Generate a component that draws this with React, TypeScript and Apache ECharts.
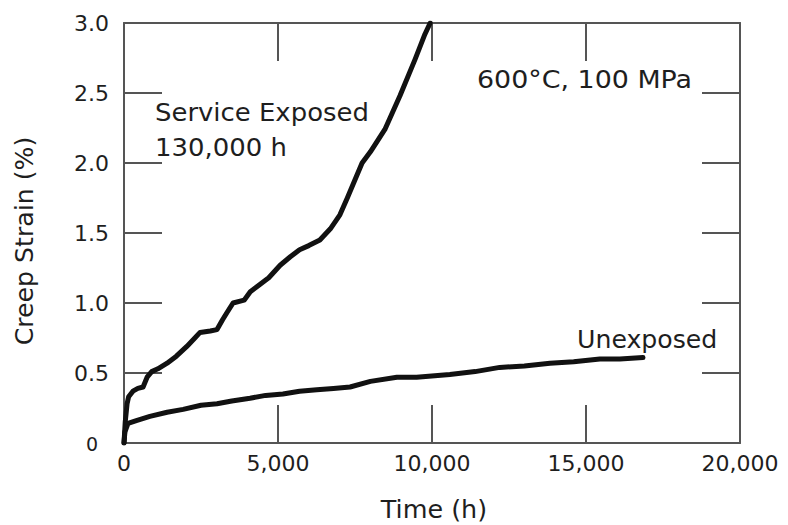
import React, { useEffect, useRef } from "react";
import * as echarts from "echarts";

const xTicks = [0, 5000, 10000, 15000, 20000];
const yTicks = [0, 0.5, 1.0, 1.5, 2.0, 2.5, 3.0];

const serviceExposed: [number, number][] = [
  [0, 0], [40, 0.15], [100, 0.28], [150, 0.33], [290, 0.37], [450, 0.39], [620, 0.40],
  [750, 0.47], [900, 0.51], [1100, 0.53], [1400, 0.57], [1700, 0.62], [2040, 0.69],
  [2300, 0.75], [2470, 0.79], [2800, 0.80], [3020, 0.81], [3200, 0.88], [3340, 0.93],
  [3540, 1.0], [3900, 1.02], [4100, 1.08], [4400, 1.13], [4700, 1.18], [5070, 1.27],
  [5400, 1.33], [5700, 1.38], [6000, 1.41], [6360, 1.45], [6700, 1.53], [7010, 1.63],
  [7250, 1.75], [7500, 1.88], [7730, 2.0], [8000, 2.08], [8470, 2.24], [8960, 2.48],
  [9450, 2.74], [9770, 2.92], [9940, 3.0],
];

const unexposed: [number, number][] = [
  [0, 0], [30, 0.08], [130, 0.14], [400, 0.16], [840, 0.19], [1400, 0.22], [1920, 0.24],
  [2500, 0.27], [3020, 0.28], [3500, 0.30], [4090, 0.32], [4600, 0.34], [5160, 0.35],
  [5700, 0.37], [6260, 0.38], [6800, 0.39], [7340, 0.40], [8000, 0.44], [8860, 0.47],
  [9500, 0.47], [10580, 0.49], [11400, 0.51], [12200, 0.54], [13000, 0.55], [13830, 0.57],
  [14600, 0.58], [15450, 0.60], [16100, 0.60], [16850, 0.61],
];

const FONT = "DejaVu Sans";
const TXT = "#1e1e1e";
const FRAME = "#555";

export default function App() {
  const ref = useRef<HTMLDivElement>(null);
  useEffect(() => {
    if (!ref.current) return;
    const chart = echarts.init(ref.current, null, { renderer: "svg" });
    const axisLine = { show: true, onZero: false, lineStyle: { color: FRAME, width: 2 } };
    const axisTick = { show: true, inside: true, length: 38, lineStyle: { color: FRAME, width: 2 } };
    const txt = (text: string, x: number, y: number, sx: number, extra: any = {}) => ({
      type: "text", x, y, scaleX: sx,
      style: { text, font: `24px "${FONT}"`, fill: TXT, textVerticalAlign: "middle", ...extra },
    });
    chart.setOption({
      animation: false,
      backgroundColor: "#fff",
      grid: { left: 124, right: 48, top: 23, bottom: 82 },
      xAxis: [
        {
          type: "value", min: 0, max: 20000, interval: 5000, position: "bottom",
          axisLine, axisTick, splitLine: { show: false },
          axisLabel: {
            margin: 9, fontFamily: FONT, fontSize: 22, color: TXT,
            formatter: (v: number) => (xTicks.includes(v) ? v.toLocaleString("en-US") : ""),
          },
        },
        {
          type: "value", min: 0, max: 20000, interval: 5000, position: "top",
          axisLine, axisTick, splitLine: { show: false }, axisLabel: { show: false },
        },
      ],
      yAxis: [
        {
          type: "value", min: 0, max: 3, interval: 0.5, position: "left",
          axisLine, axisTick, splitLine: { show: false },
          axisLabel: {
            margin: 15, fontFamily: FONT, fontSize: 22, color: TXT,
            formatter: (v: number) => (v === 0 ? "{z|0}" : yTicks.includes(v) ? v.toFixed(1) : ""),
            rich: { z: { fontFamily: FONT, fontSize: 19, color: TXT, padding: [2, 11, 0, 0] } },
          },
        },
        {
          type: "value", min: 0, max: 3, interval: 0.5, position: "right",
          axisLine, axisTick, splitLine: { show: false }, axisLabel: { show: false },
        },
      ],
      series: [
        {
          type: "line", data: serviceExposed, showSymbol: false, symbol: "none",
          lineStyle: { color: "#111", width: 5, join: "round", cap: "round" },
          z: 5,
        },
        {
          type: "line", data: unexposed, showSymbol: false, symbol: "none",
          lineStyle: { color: "#111", width: 5, join: "round", cap: "round" },
          z: 5,
        },
      ],
      graphic: [
        txt("Service Exposed", 155, 113, 1.08),
        txt("130,000 h", 155, 148, 1.08),
        txt("600°C, 100 MPa", 477, 80, 1.12),
        txt("Unexposed", 577, 340, 1.05),
        txt("Time (h)", 434, 510, 1.06, { textAlign: "center" }),
        { type: "text", x: 25, y: 241, rotation: Math.PI / 2, scaleX: 1.05, style: { text: "Creep Strain (%)", font: `24px "${FONT}"`, fill: TXT, textAlign: "center", textVerticalAlign: "middle" } },
      ],
    });
    return () => chart.dispose();
  }, []);
  return <div ref={ref} style={{ width: 788, height: 525, position: "absolute", left: 0, top: 0 }} />;
}
